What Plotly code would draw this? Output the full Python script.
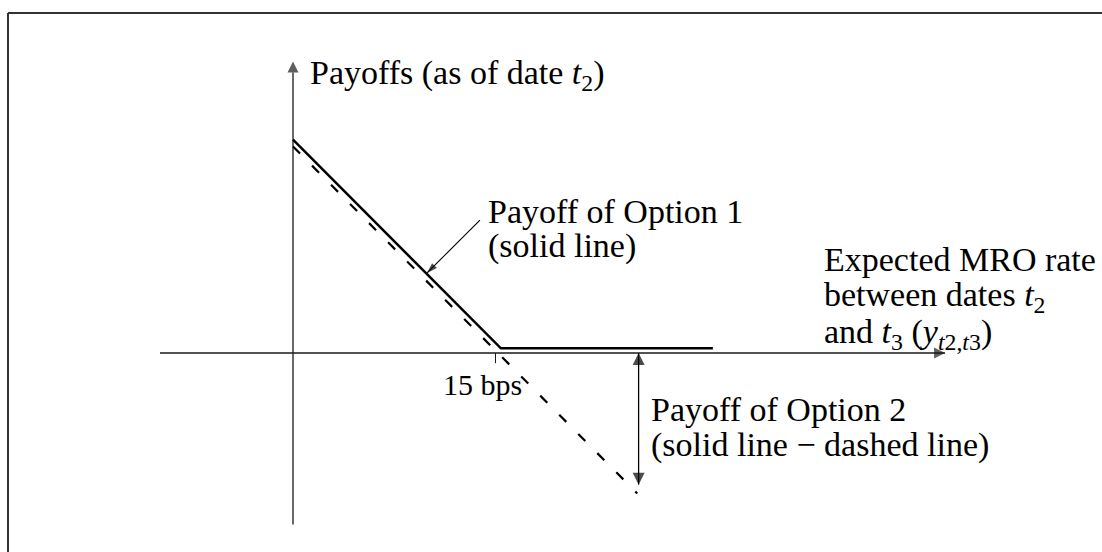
import plotly.graph_objects as go

# Data (x: expected MRO rate in bps, y: payoff in the same units)
KINK_BPS = 15
SOLID_X = [0, 15.4, 31.1]
SOLID_Y = [15.8, 0.35, 0.35]
DASHED_X = [0, 25.5]
DASHED_Y = [15.3, -10.4]
OPTION2_X = [25.6, 25.6]
OPTION2_Y = [0, -9.75]
POINTER_X = [13.85, 9.93]
POINTER_Y = [9.85, 5.93]

# hand-drawn axes (plotly's own axes are hidden)
X_AXIS = [-9.85, 48.3]
Y_AXIS = [-12.7, 21.6]
TICK_Y = [0, -0.75]

FONT = "Liberation Serif, Times New Roman, serif"
INK = "#000000"
AXIS_INK = "#1a1a1a"

# pixel geometry: x=0 at px 293, y=0 at px 353, 13.5 px per unit
W, H = 1102, 552
PX0, PY0, SCALE = 293, 353, 13.5
X_RANGE = [-PX0 / SCALE, (W - PX0) / SCALE]
Y_RANGE = [(PY0 - H) / SCALE, PY0 / SCALE]


def arrow_line(x, y, symbols, sizes, color, width, angle=0):
    """Straight line with arrow markers at its ends (size 0 = no head)."""
    return go.Scatter(
        x=x, y=y, mode="lines+markers",
        line=dict(color=color, width=width),
        marker=dict(symbol=symbols, size=sizes, color=color, angle=angle,
                    line=dict(width=0)),
        hoverinfo="skip",
    )


fig = go.Figure()

# axes with arrowheads
fig.add_trace(arrow_line(X_AXIS, [0, 0], ["circle", "arrow-right"], [0, 11], AXIS_INK, 1.3))
fig.add_trace(arrow_line([0, 0], Y_AXIS, ["circle", "arrow-up"], [0, 11], AXIS_INK, 1.3))

# tick at 15 bps
fig.add_trace(go.Scatter(x=[KINK_BPS, KINK_BPS], y=TICK_Y, mode="lines",
                         line=dict(color=AXIS_INK, width=1), hoverinfo="skip"))

# payoff lines
fig.add_trace(go.Scatter(x=DASHED_X, y=DASHED_Y, mode="lines",
                         line=dict(color=INK, width=2.2, dash="10px,17px"), hoverinfo="skip"))
fig.add_trace(go.Scatter(x=SOLID_X, y=SOLID_Y, mode="lines",
                         line=dict(color=INK, width=2.5), hoverinfo="skip"))

# option 2 double arrow
fig.add_trace(arrow_line(OPTION2_X, OPTION2_Y, ["arrow-up", "arrow-down"], [12, 12], INK, 1.3))

# pointer to the solid line
fig.add_trace(arrow_line(POINTER_X, POINTER_Y, ["circle", "arrow"], [0, 11], INK, 1.1, angle=225))

labels = [
    (1.1, 20.6, "Payoffs (as of date <i>t</i><sub>2</sub>)"),
    (14.3, 10.5, "Payoff of Option 1"),
    (14.3, 7.9, "(solid line)"),
    (39.2, 6.9, "Expected MRO rate"),
    (39.2, 4.15, "between dates <i>t</i><sub>2</sub>"),
    (39.2, 1.4, "and <i>t</i><sub>3</sub> (<i>y</i><sub><i>t</i>2,<i>t</i>3</sub>)"),
    (26.35, -4.2, "Payoff of Option 2"),
    (26.35, -6.8, "(solid line \u2212 dashed line)"),
]
for x, y, text in labels:
    fig.add_annotation(x=x, y=y, text=text, showarrow=False, xanchor="left",
                       yanchor="middle", font=dict(family=FONT, size=34, color=INK))

fig.add_annotation(x=14.0, y=-2.35, text="15 bps", showarrow=False, xanchor="center",
                   yanchor="middle", font=dict(family=FONT, size=30, color=INK))

# outer frame (only left and top edges are visible in the crop)
fig.add_shape(type="line", xref="paper", yref="paper", x0=8 / W, x1=8 / W,
              y0=0, y1=1 - 13 / H, line=dict(color="#333333", width=2))
fig.add_shape(type="line", xref="paper", yref="paper", x0=8 / W, x1=1,
              y0=1 - 13 / H, y1=1 - 13 / H, line=dict(color="#333333", width=2))

fig.update_layout(
    width=W, height=H,
    margin=dict(l=0, r=0, t=0, b=0),
    paper_bgcolor="white", plot_bgcolor="white",
    showlegend=False,
    xaxis=dict(range=X_RANGE, visible=False, fixedrange=True),
    yaxis=dict(range=Y_RANGE, visible=False, fixedrange=True),
)

fig.write_html("out.html", config={"displayModeBar": False},
               post_script="document.body.style.margin = '0';")
